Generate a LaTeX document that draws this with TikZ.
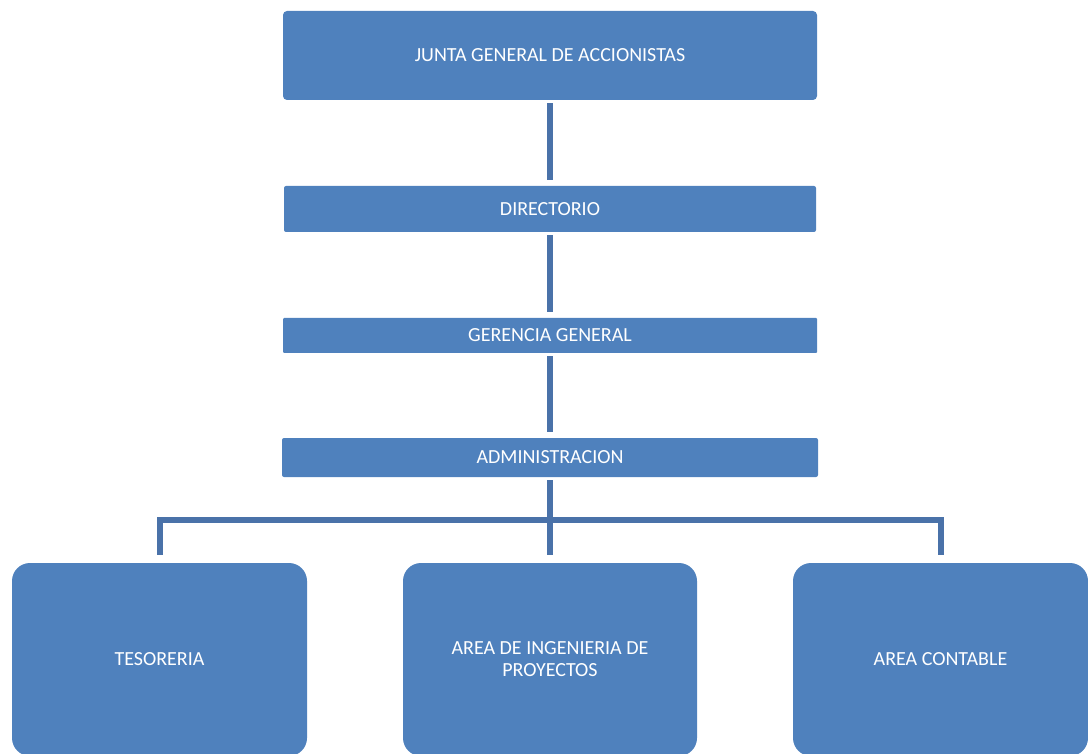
\documentclass[tikz,border=0pt]{standalone}
\usepackage{fontspec}
\setmainfont{Carlito}
\definecolor{boxblue}{RGB}{79,129,189}
\definecolor{linkblue}{RGB}{74,114,169}
\begin{document}
\begin{tikzpicture}[x=1pt,y=1pt,
  box/.style={fill=boxblue,draw=none,rounded corners=4pt,text=white,align=center,
    font=\fontsize{20}{22}\selectfont,inner sep=0pt},
  bigbox/.style={box,rounded corners=18pt},
  conn/.style={draw=linkblue,line width=6pt}]
\useasboundingbox (0,0) rectangle (1088,-754);
\node[box,minimum width=534pt,minimum height=89pt] (junta) at (550,-55.5) {JUNTA GENERAL DE ACCIONISTAS};
\node[box,rounded corners=2pt,minimum width=532pt,minimum height=46pt] (dir) at (550,-209) {DIRECTORIO};
\node[box,rounded corners=1pt,minimum width=534pt,minimum height=35pt] (ger) at (550,-335.5) {GERENCIA GENERAL};
\node[box,rounded corners=2pt,minimum width=536pt,minimum height=39pt] (adm) at (550,-457.5) {ADMINISTRACION};
\node[bigbox,minimum width=295pt,minimum height=193pt] (tes) at (159.5,-659.5) {TESORERIA};
\node[bigbox,minimum width=294pt,minimum height=193pt] (ing) at (550,-659.5) {AREA DE INGENIERIA DE\\PROYECTOS};
\node[bigbox,minimum width=295pt,minimum height=193pt] (cont) at (940.5,-659.5) {AREA CONTABLE};
\coordinate (bar) at (550,-520);
\draw[conn] ([yshift=-3pt]junta.south) -- ([yshift=6pt]dir.north);
\draw[conn] ([yshift=-3pt]dir.south) -- ([yshift=6pt]ger.north);
\draw[conn] ([yshift=-3pt]ger.south) -- ([yshift=6pt]adm.north);
\draw[conn] ([yshift=-3pt]adm.south) -- ([yshift=8pt]ing.north);
\draw[conn] ([yshift=8pt]tes.north) |- (bar) -| ([yshift=8pt]cont.north);
\end{tikzpicture}
\end{document}
